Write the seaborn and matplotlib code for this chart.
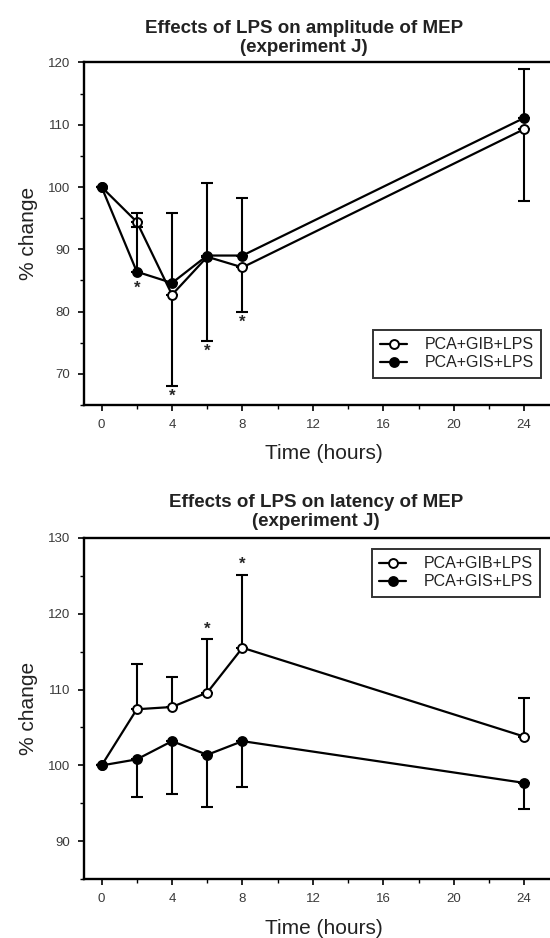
import numpy as np
import pandas as pd
import matplotlib
matplotlib.use("Agg")
import matplotlib.pyplot as plt
from matplotlib.lines import Line2D
from matplotlib.ticker import MultipleLocator
import seaborn as sns

sns.set_theme(style="white")
plt.rcParams["font.family"] = ["Liberation Sans", "DejaVu Sans"]

# ---- data -------------------------------------------------------------
hours = [0, 2, 4, 6, 8, 24]
series_names = ["PCA+GIB+LPS", "PCA+GIS+LPS"]

# amplitude of MEP (% change)
amp_gib = [100, 94.4, 82.7, 88.8, 87.1, 109.3]
amp_gib_err_low = [0, 0.8, 14.6, 13.6, 7.1, 11.5]
amp_gis = [100, 86.4, 84.6, 89.0, 89.0, 111.1]
amp_gis_err_up = [0, 9.5, 11.2, 11.7, 9.3, 7.8]
amp_star_x = [2, 4, 6, 8]
amp_star_y = [83.8, 66.4, 73.7, 78.3]

# latency of MEP (% change)
lat_gib = [100, 107.4, 107.7, 109.6, 115.5, 103.8]
lat_gib_err_up = [0, 5.9, 3.9, 7.1, 9.6, 5.1]
lat_gis = [100, 100.8, 103.2, 101.4, 103.2, 97.7]
lat_gis_err_low = [0, 5.0, 7.0, 6.9, 6.0, 3.4]
lat_star_x = [6, 8]
lat_star_y = [117.9, 126.5]

x_ticks = [0, 4, 8, 12, 16, 20, 24]

# ---- figure -----------------------------------------------------------
W, H = 550, 938
fig = plt.figure(figsize=(W / 100, H / 100), dpi=100)
fig.patch.set_facecolor("white")


def px_axes(left, top, right, bottom):
    return fig.add_axes([left / W, 1 - bottom / H, (right - left) / W, (bottom - top) / H])


ax1 = px_axes(84, 62.5, 577, 405)
ax2 = px_axes(84, 537.7, 577, 879.3)

open_kw = dict(marker="o", markersize=6.4, markerfacecolor="white",
               markeredgecolor="black", markeredgewidth=1.4)
fill_kw = dict(marker="o", markersize=6.4, markerfacecolor="black",
               markeredgecolor="black", markeredgewidth=1.4)


def draw_series(ax, y, kw, err_low, err_up, z):
    df = pd.DataFrame({"hours": hours, "pct": y})
    ax.errorbar(df["hours"], df["pct"], yerr=[err_low, err_up], fmt="none",
                ecolor="black", elinewidth=1.5, capsize=4, capthick=1.5, zorder=z - 1)
    sns.lineplot(data=df, x="hours", y="pct", ax=ax, color="black", linewidth=1.6,
                 zorder=z, **kw)


zeros = [0] * len(hours)
draw_series(ax1, amp_gib, open_kw, amp_gib_err_low, zeros, 4)
draw_series(ax1, amp_gis, fill_kw, zeros, amp_gis_err_up, 6)
draw_series(ax2, lat_gib, open_kw, zeros, lat_gib_err_up, 4)
draw_series(ax2, lat_gis, fill_kw, lat_gis_err_low, zeros, 6)

for sx, sy in zip(amp_star_x, amp_star_y):
    ax1.text(sx, sy, "*", ha="center", va="center", fontsize=12, fontweight="bold")
for sx, sy in zip(lat_star_x, lat_star_y):
    ax2.text(sx, sy, "*", ha="center", va="center", fontsize=12, fontweight="bold")


def style_axes(ax, ylim, ymajor):
    ax.set_xlim(-1, 27)
    ax.set_ylim(*ylim)
    ax.set_xticks(x_ticks)
    ax.xaxis.set_minor_locator(MultipleLocator(2))
    ax.yaxis.set_major_locator(MultipleLocator(ymajor))
    ax.yaxis.set_minor_locator(MultipleLocator(ymajor / 2))
    ax.set_yticks([t for t in ax.get_yticks() if ylim[0] < t < ylim[1] or t == ylim[1]])
    ax.tick_params(axis="both", which="major", direction="out", length=4, width=1.2,
                   labelsize=9.5, labelcolor="#3a3a3a", color="black", pad=6,
                   bottom=True, left=True)
    ax.tick_params(axis="both", which="minor", direction="out", length=3, width=1.0,
                   color="black", bottom=True, left=True)
    for side in ["left", "bottom", "top"]:
        ax.spines[side].set_color("black")
        ax.spines[side].set_linewidth(1.7)
    ax.spines["right"].set_visible(False)
    ax.set_xlabel("Time (hours)", fontsize=15, color="#222222")
    ax.set_ylabel("% change", fontsize=15, color="#222222")
    ax.xaxis.set_label_coords(0.486, -0.115)
    ax.xaxis.label.set_va("top")
    ax.yaxis.set_label_coords(-0.093, 0.5)
    ax.grid(False)


style_axes(ax1, (65, 120), 10)
style_axes(ax2, (85, 130), 10)

handles = [
    Line2D([], [], color="black", linewidth=1.6, **open_kw),
    Line2D([], [], color="black", linewidth=1.6, **fill_kw),
]

for ax, (lx, ly) in [(ax1, (373, 330)), (ax2, (372, 549))]:
    leg = ax.legend(handles, series_names, loc="upper left",
                    bbox_to_anchor=(lx / W, 1 - ly / H), bbox_transform=fig.transFigure,
                    fontsize=11.5, frameon=True, fancybox=False, borderpad=0.45,
                    handlelength=1.7, handletextpad=1.1, labelspacing=0.2,
                    borderaxespad=0)
    leg.get_frame().set_edgecolor("black")
    leg.get_frame().set_linewidth(1.4)
    for t in leg.get_texts():
        t.set_color("#222222")

fig.text(304 / W, 1 - 38 / H, "Effects of LPS on amplitude of MEP\n(experiment J)",
         ha="center", va="center", fontsize=13.5, fontweight="bold",
         linespacing=1.15, color="#222222")
fig.text(316 / W, 1 - 512 / H, "Effects of LPS on latency of MEP\n(experiment J)",
         ha="center", va="center", fontsize=13.5, fontweight="bold",
         linespacing=1.15, color="#222222")

fig.savefig("out.png", dpi=100, facecolor="white")
